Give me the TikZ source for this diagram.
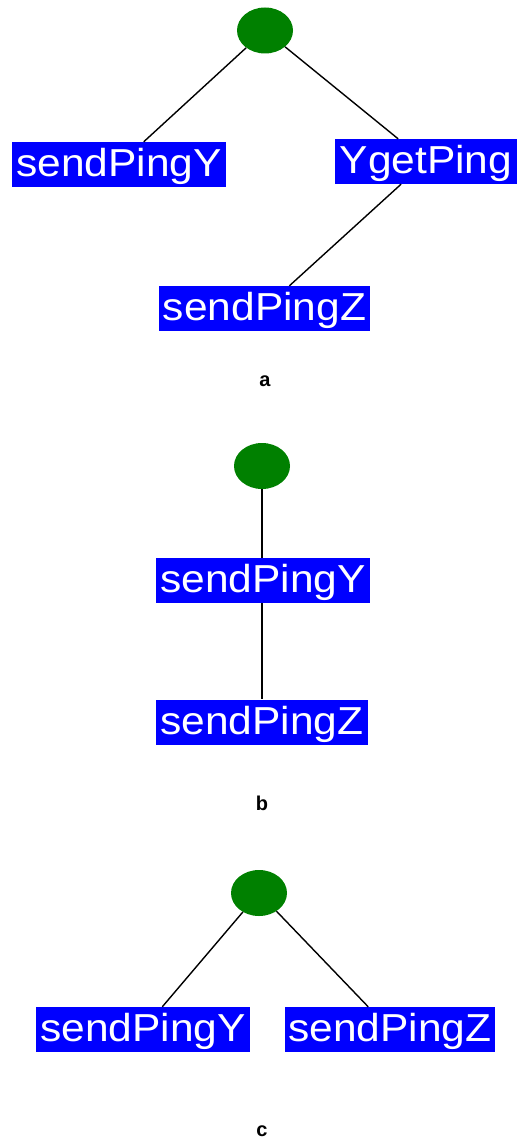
\documentclass[tikz,border=0pt]{standalone}
\usepackage{fontspec}
\setmainfont{Liberation Sans}
\newfontfamily\boxfont[FakeStretch=1.09]{Liberation Sans}
\usetikzlibrary{shapes.geometric}
\definecolor{boxblue}{RGB}{0,0,255}
\definecolor{rootgreen}{RGB}{0,128,0}
\tikzset{
  rootnode/.style={ellipse, fill=rootgreen, draw=none, inner sep=0pt,
    minimum width=56pt, minimum height=46pt},
  evbox/.style={rectangle, fill=boxblue, draw=none, inner sep=0pt,
    minimum height=45pt, text height=32pt, text depth=8pt,
    text=white, font=\boxfont\fontsize{39pt}{39pt}\selectfont},
  link/.style={draw=black, line width=1.4pt},
  caption/.style={font=\bfseries\fontsize{20pt}{20pt}\selectfont, inner sep=0pt}
}
\begin{document}
\begin{tikzpicture}[x=1pt,y=-1pt]
\useasboundingbox (0,0) rectangle (518,1139);

% tree a
\node[rootnode] (ra) at (265,30.5) {};
\node[evbox, minimum width=214pt] (ya) at (119,164.5) {sendPingY};
\node[evbox, minimum width=182pt] (ga) at (426,161.5) {YgetPing};
\node[evbox, minimum width=211pt] (za) at (264.5,308.5) {sendPingZ};
\draw[link] (ra) -- (ya);
\draw[link] (ra) -- (ga);
\draw[link] (ga) -- (za);
\node[caption] (la) at (265,381) {a};

% tree b
\node[rootnode] (rb) at (262,466) {};
\node[evbox, minimum width=214pt] (yb) at (263,580.5) {sendPingY};
\node[evbox, minimum width=212pt] (zb) at (262,722) {sendPingZ};
\draw[link, line width=1.6pt] (rb) -- (rb |- yb.north);
\draw[link, line width=1.6pt] (rb |- yb.south) -- (rb |- zb.north);
\node[caption] (lb) at (262,803) {b};

% tree c
\node[rootnode] (rc) at (259,893) {};
\node[evbox, minimum width=214pt] (yc) at (143,1029.5) {sendPingY};
\node[evbox, minimum width=210pt] (zc) at (390,1029.5) {sendPingZ};
\draw[link] (rc) -- (yc);
\draw[link] (rc) -- (zc);
\node[caption] (lc) at (262,1131) {c};
\end{tikzpicture}
\end{document}
